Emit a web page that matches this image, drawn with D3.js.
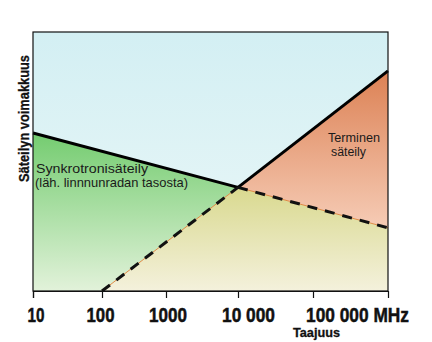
<!DOCTYPE html>
<html><head><meta charset="utf-8">
<script src="https://cdn.jsdelivr.net/npm/d3@7"></script>
<style>
html,body{margin:0;padding:0;background:#fff;}
svg{display:block;}
.narrow{font-family:"Liberation Sans","Arial",sans-serif;font-weight:bold;stroke:#111;stroke-width:0.5;}
</style></head>
<body>
<svg id="chart" width="432" height="342"></svg>
<script>
// ---- data ----
const xDomain = [10, 100, 1000, 10000, 100000, 1000000];
const tickValues = [10, 100, 1000, 10000, 100000];
const tickLabels = ["10", "100", "1000", "10 000", "100 000 MHz"];
const synchroFreq = [10, 10000, 1000000];
const synchroVal = [61, 40, 24.4];
const thermalFreq = [100, 10000, 1000000];
const thermalVal = [0, 40, 85];
const yDomain = [0, 100];

// ---- layout ----
const L = 33, R = 388, T = 32, B = 291;
const svg = d3.select("#chart");
const x = d3.scaleLog().domain(xDomain).range([L, 102, 166, 238, 313, R]);
const y = d3.scaleLinear().domain(yDomain).range([B, T]);

const syn = synchroFreq.map((f, i) => [f, synchroVal[i]]);
const the = thermalFreq.map((f, i) => [f, thermalVal[i]]);
const line = d3.line().x(d => x(d[0])).y(d => y(d[1]));

// gradients
const defs = svg.append("defs");
function grad(id, c1, c2) {
  const g = defs.append("linearGradient").attr("id", id).attr("x1", 0).attr("y1", 0).attr("x2", 0).attr("y2", 1);
  g.append("stop").attr("offset", "0%").attr("stop-color", c1);
  g.append("stop").attr("offset", "100%").attr("stop-color", c2);
}
grad("gBlue", "#d3eff3", "#ecf8f8");
grad("gGreen", "#74cc70", "#e2f2da");
grad("gOrange", "#dc8154", "#f6ccb6");
grad("gKhaki", "#d9d98f", "#f4f1dc");

// background
svg.append("rect").attr("x", x(xDomain[0])).attr("y", y(yDomain[1]))
  .attr("width", x(xDomain[xDomain.length - 1]) - x(xDomain[0]))
  .attr("height", y(yDomain[0]) - y(yDomain[1]))
  .attr("fill", "url(#gBlue)");

const lastF = xDomain[xDomain.length - 1];
// regions
svg.append("path").attr("d", line([[xDomain[0], 0], syn[0], syn[1], the[0]]) + "Z").attr("fill", "url(#gGreen)");
svg.append("path").attr("d", line([syn[1], the[2], syn[2]]) + "Z").attr("fill", "url(#gOrange)");
svg.append("path").attr("d", line([the[0], the[1], syn[2], [lastF, 0]]) + "Z").attr("fill", "url(#gKhaki)");

// solid lines
svg.append("path").attr("d", line([syn[0], syn[1]])).attr("fill", "none").attr("stroke", "#000").attr("stroke-width", 3);
svg.append("path").attr("d", line([the[1], the[2]])).attr("fill", "none").attr("stroke", "#000").attr("stroke-width", 3);
// dashed lines with thin orange underlay
[[syn[1], syn[2]], [the[0], the[1]]].forEach(seg => {
  svg.append("path").attr("d", line(seg)).attr("fill", "none").attr("stroke", "#e08a45").attr("stroke-width", 1);
  svg.append("path").attr("d", line(seg)).attr("fill", "none").attr("stroke", "#111")
    .attr("stroke-width", 3).attr("stroke-dasharray", "10,8");
});

// frame
svg.append("rect").attr("x", L).attr("y", T).attr("width", R - L).attr("height", B - T)
  .attr("fill", "none").attr("stroke", "#111").attr("stroke-width", 1.2);

// x axis
const ax = svg.append("g").attr("transform", `translate(0,${B})`)
  .call(d3.axisBottom(x).tickValues(tickValues).tickSize(7).tickPadding(4)
    .tickFormat((d, i) => tickLabels[i]));
ax.select(".domain").attr("stroke", "#111").attr("stroke-width", 1.2);
ax.selectAll(".tick line").attr("stroke", "#111").attr("stroke-width", 1.2);
const labelNudge = [2.5, -2, 1.5, 10, 44];
const labelWidth = [17, 28, 38, 53, 103];
ax.selectAll(".tick text").attr("class", "narrow").attr("font-size", 20).attr("fill", "#111")
  .attr("dx", (d, i) => labelNudge[i]).attr("dy", "1em")
  .attr("textLength", (d, i) => labelWidth[i]).attr("lengthAdjust", "spacingAndGlyphs");
svg.append("text").attr("class", "narrow").attr("x", 293).attr("y", 337)
  .attr("font-size", 13).attr("fill", "#111").style("stroke-width", 0.3)
  .attr("textLength", 47).attr("lengthAdjust", "spacingAndGlyphs").text("Taajuus");
svg.append("text").attr("class", "narrow").attr("transform", "translate(29,182) rotate(-90)")
  .attr("font-size", 15).attr("fill", "#111").style("stroke-width", 0.3)
  .attr("textLength", 127).attr("lengthAdjust", "spacingAndGlyphs").text("Säteilyn voimakkuus");

// annotations
const ann = svg.append("g").attr("font-family", "'Liberation Sans',Arial,sans-serif").attr("font-size", 13).attr("fill", "#1a1a1a");
ann.append("text").attr("x", 36).attr("y", 173).attr("textLength", 112).attr("lengthAdjust", "spacingAndGlyphs").text("Synkrotronisäteily");
ann.append("text").attr("x", 35).attr("y", 187).attr("textLength", 153).attr("lengthAdjust", "spacingAndGlyphs").text("(läh. linnnunradan tasosta)");
ann.append("text").attr("x", 328).attr("y", 142).attr("font-size", 12.5).attr("textLength", 52).attr("lengthAdjust", "spacingAndGlyphs").text("Terminen");
ann.append("text").attr("x", 331).attr("y", 156).attr("font-size", 12.5).attr("textLength", 35).attr("lengthAdjust", "spacingAndGlyphs").text("säteily");
</script>
</body></html>
